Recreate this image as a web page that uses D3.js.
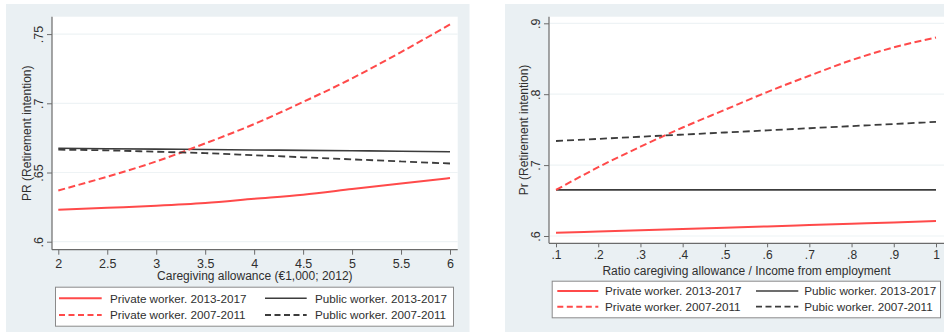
<!DOCTYPE html>
<html>
<head>
<meta charset="utf-8">
<script src="https://cdn.jsdelivr.net/npm/d3@7/dist/d3.min.js"></script>
<style>
  html, body { margin: 0; padding: 0; background: #fff; }
  svg { display: block; font-family: "Liberation Sans", Arial, sans-serif; }
</style>
</head>
<body>
<svg id="chart" width="944" height="333"></svg>
<script>
// Left panel: caregiving allowance (thousand euro, 2012)
const allowance = [2, 2.5, 3, 3.5, 4, 4.5, 5, 5.5, 6];
const privRecentA = [0.623, 0.6245, 0.626, 0.628, 0.631, 0.634, 0.638, 0.642, 0.646];
const pubRecentA  = [0.6675, 0.6672, 0.6669, 0.6666, 0.6663, 0.666, 0.6657, 0.6654, 0.665];
const privEarlyA  = [0.637, 0.647, 0.658, 0.671, 0.685, 0.701, 0.718, 0.737, 0.757];
const pubEarlyA   = [0.6665, 0.666, 0.665, 0.664, 0.6625, 0.661, 0.6595, 0.658, 0.6565];
const xTicksA = [2, 2.5, 3, 3.5, 4, 4.5, 5, 5.5, 6];
const yTicksA = [0.6, 0.65, 0.7, 0.75];

// Right panel: ratio caregiving allowance / income from employment
const ratio = [0.1, 0.2, 0.3, 0.4, 0.5, 0.6, 0.7, 0.8, 0.9, 1];
const privRecentB = [0.6045, 0.6063, 0.6081, 0.6099, 0.6117, 0.6135, 0.6154, 0.6173, 0.6192, 0.621];
const pubRecentB  = [0.665, 0.665, 0.665, 0.665, 0.665, 0.665, 0.665, 0.665, 0.665, 0.665];
const privEarlyB  = [0.665, 0.697, 0.726, 0.753, 0.778, 0.803, 0.826, 0.848, 0.866, 0.880];
const pubEarlyB   = [0.734, 0.737, 0.740, 0.743, 0.746, 0.749, 0.752, 0.755, 0.758, 0.761];
const xTicksB = [0.1, 0.2, 0.3, 0.4, 0.5, 0.6, 0.7, 0.8, 0.9, 1];
const yTicksB = [0.6, 0.7, 0.8, 0.9];

const legendA = ["Private worker. 2013-2017", "Public worker. 2013-2017", "Private worker. 2007-2011", "Public worker. 2007-2011"];
const legendB = ["Private worker. 2013-2017", "Public worker. 2013-2017", "Private worker. 2007-2011", "Pubic worker. 2007-2011"];

const RED = "#ff4a4a", DARK = "#3c3c3c", BG = "#eaf0f3", GRID = "#eef3f5", AXIS = "#6b6b6b", TXT = "#2f2f2f";

// Stata-style tick text: drop the leading zero
const fmt = v => { const s = String(+v.toFixed(3)); return s.startsWith("0.") ? s.slice(1) : s; };

const styles = [
  { color: RED,  width: 2,   dash: null },
  { color: DARK, width: 1.6, dash: null },
  { color: RED,  width: 2,   dash: "7,3.5" },
  { color: DARK, width: 1.8, dash: "7,4" }
];

const svg = d3.select("#chart");

function panel(cfg) {
  const g = svg.append("g");
  // outer graph region
  g.append("rect").attr("x", cfg.bg[0]).attr("y", cfg.bg[1])
    .attr("width", cfg.bg[2] - cfg.bg[0]).attr("height", cfg.bg[3] - cfg.bg[1]).attr("fill", BG);
  // plot region
  g.append("rect").attr("x", cfg.plot[0]).attr("y", cfg.plot[1])
    .attr("width", cfg.plot[2] - cfg.plot[0]).attr("height", cfg.plot[3] - cfg.plot[1]).attr("fill", "#fff");

  const x = d3.scaleLinear().domain(cfg.xDom).range(cfg.xRange);
  const y = d3.scaleLinear().domain(cfg.yDom).range(cfg.yRange);

  // horizontal grid
  g.append("g").selectAll("line").data(cfg.yTicks).join("line")
    .attr("x1", cfg.plot[0] + 1).attr("x2", cfg.plot[2])
    .attr("y1", d => y(d)).attr("y2", d => y(d))
    .attr("stroke", GRID).attr("stroke-width", 1.2);

  // y axis
  const ya = g.append("g").attr("transform", `translate(${cfg.plot[0]},0)`)
    .call(d3.axisLeft(y).tickValues(cfg.yTicks).tickFormat(fmt).tickSize(5).tickPadding(0));
  ya.select(".domain").attr("d", `M0,${cfg.plot[1]}V${cfg.plot[3]}`).attr("stroke", AXIS).attr("stroke-width", 1.2);
  ya.selectAll(".tick line").attr("stroke", AXIS);
  ya.selectAll(".tick text")
    .attr("x", null).attr("dy", null)
    .attr("transform", "translate(-9.5,0) rotate(-90)")
    .attr("text-anchor", "middle").attr("fill", TXT)
    .style("font-size", "12.5px").style("font-family", "Liberation Sans, Arial, sans-serif");

  // x axis
  const xa = g.append("g").attr("transform", `translate(0,${cfg.plot[3]})`)
    .call(d3.axisBottom(x).tickValues(cfg.xTicks).tickFormat(fmt).tickSize(cfg.xTickSize).tickPadding(cfg.xTickPad));
  xa.select(".domain").attr("d", `M${cfg.plot[0]},0H${cfg.plot[2]}`).attr("stroke", AXIS).attr("stroke-width", 1.2);
  xa.selectAll(".tick line").attr("stroke", AXIS);
  xa.selectAll(".tick text").attr("fill", TXT)
    .style("font-size", cfg.xTickFont).style("font-family", "Liberation Sans, Arial, sans-serif");

  // axis titles
  g.append("text").attr("x", (cfg.plot[0] + cfg.plot[2]) / 2).attr("y", cfg.xTitleY)
    .attr("text-anchor", "middle").attr("fill", TXT).style("font-size", "12px").text(cfg.xTitle);
  g.append("text")
    .attr("transform", `translate(${cfg.yTitleX},${(cfg.plot[1] + cfg.plot[3]) / 2}) rotate(-90)`)
    .attr("text-anchor", "middle").attr("fill", TXT).style("font-size", "12px").text(cfg.yTitle);

  // fitted lines
  const line = d3.line().x(d => x(d[0])).y(d => y(d[1])).curve(d3.curveMonotoneX);
  cfg.series.forEach((vals, i) => {
    const s = styles[i];
    g.append("path").datum(cfg.xs.map((v, k) => [v, vals[k]]))
      .attr("d", line).attr("fill", "none")
      .attr("stroke", s.color).attr("stroke-width", s.width)
      .attr("stroke-dasharray", s.dash);
  });

  // legend
  const L = cfg.legend;
  g.append("rect").attr("x", L.box[0] + 0.5).attr("y", L.box[1] + 0.5)
    .attr("width", L.box[2] - L.box[0]).attr("height", L.box[3] - L.box[1])
    .attr("fill", "#fff").attr("stroke", "#8a8a8a").attr("stroke-width", 1);
  cfg.labels.forEach((lab, i) => {
    const col = i % 2, row = Math.floor(i / 2);
    const s = styles[i];
    const cy = L.rows[row];
    g.append("line").attr("x1", L.cols[col][0]).attr("x2", L.cols[col][1])
      .attr("y1", cy).attr("y2", cy)
      .attr("stroke", s.color).attr("stroke-width", s.width)
      .attr("stroke-dasharray", s.dash ? "6,3.5" : null);
    g.append("text").attr("x", L.cols[col][2]).attr("y", cy + 4.3)
      .attr("fill", TXT).style("font-size", "11.7px").text(lab);
  });
}

panel({
  bg: [6, 4, 469.5, 332],
  plot: [52, 16.7, 457.7, 249.7],
  xDom: [2, 6], xRange: [58.3, 450],
  yDom: [0.6, 0.75], yRange: [241.7, 34.1],
  xTicks: xTicksA, yTicks: yTicksA,
  xTickSize: 5, xTickPad: 4, xTickFont: "12.5px",
  xTitle: "Caregiving allowance (€1,000; 2012)", xTitleY: 280,
  yTitle: "PR (Retirement intention)", yTitleX: 31,
  xs: allowance,
  series: [privRecentA, pubRecentA, privEarlyA, pubEarlyA],
  labels: legendA,
  legend: { box: [55, 286.7, 453, 325.7], rows: [298.3, 315],
            cols: [[59, 101.7, 110], [265, 306.7, 315]] }
});

panel({
  bg: [505, 4, 944, 332],
  plot: [549, 16.7, 944, 243.3],
  xDom: [0.1, 1], xRange: [556, 936],
  yDom: [0.6, 0.9], yRange: [236, 23.3],
  xTicks: xTicksB, yTicks: yTicksB,
  xTickSize: 4, xTickPad: 3, xTickFont: "12px",
  xTitle: "Ratio caregiving allowance / Income from employment", xTitleY: 274.5,
  yTitle: "Pr (Retirement intention)", yTitleX: 527.5,
  xs: ratio,
  series: [privRecentB, pubRecentB, privEarlyB, pubEarlyB],
  labels: legendB,
  legend: { box: [551.7, 280.7, 940, 317.3], rows: [291, 306.7],
            cols: [[557.3, 598.3, 605], [756, 798.3, 804.3]] }
});
</script>
</body>
</html>
